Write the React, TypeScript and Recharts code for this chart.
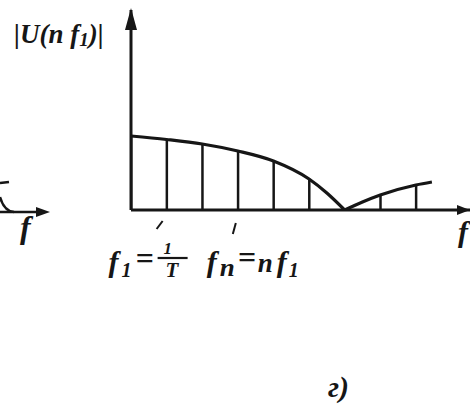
import React from 'react';
import {
  ComposedChart,
  Bar,
  Line,
  XAxis,
  YAxis,
  ReferenceDot
} from 'recharts';

// harmonic numbers n (f = n * f1) and line heights
const harmonics = [0, 1, 2, 3, 4, 5, 6, 7, 8];
const lineHeights = [74, 70.5, 66, 59, 49, 31, 0, 15, 25];

// envelope |U(f)|: main lobe and first side lobe
const mainLobeX = [0, 1, 2, 3, 4, 5, 5.5, 6];
const mainLobeY = [74, 70.5, 66, 59, 49, 31, 17, 0];
const sideLobeX = [6, 6.5, 7, 8, 8.45];
const sideLobeY = [0, 8, 15, 25, 28];

const labelTicks = [1, 3];
const xMax = 9.52;
const yMax = 200;

const INK = '#161616';
const FONT = '"Liberation Serif", "DejaVu Serif", serif';

const buildData = () => {
  const rows: Record<number, any> = {};
  const row = (x: number) => (rows[x] = rows[x] || { f: x });
  harmonics.forEach((x, i) => (row(x).spec = lineHeights[i]));
  mainLobeX.forEach((x, i) => (row(x).lobe1 = mainLobeY[i]));
  sideLobeX.forEach((x, i) => (row(x).lobe2 = sideLobeY[i]));
  return Object.values(rows).sort((a, b) => a.f - b.f);
};

const data = buildData();

const txt = {
  fontFamily: FONT,
  fontStyle: 'italic',
  fontWeight: 700,
  fill: INK
} as const;

const FreqTick = ({ x, y, payload }: any) => {
  if (payload.value === 1) {
    return (
      <g>
        <line x1={x - 4} y1={y + 11} x2={x - 10} y2={y + 19} stroke={INK} strokeWidth={2} />
        <text x={x - 58} y={y + 62} fontSize={30} {...txt}>f</text>
        <text x={x - 45} y={y + 67} fontSize={20} {...txt}>1</text>
        <text x={x - 31} y={y + 59} fontSize={32} {...txt}>=</text>
        <text x={x - 3} y={y + 44} fontSize={17} {...txt}>1</text>
        <line x1={x - 9} y1={y + 48} x2={x + 21} y2={y + 48} stroke={INK} strokeWidth={2.2} />
        <text x={x - 1} y={y + 67} fontSize={21} {...txt}>T</text>
      </g>
    );
  }
  return (
    <g>
      <line x1={x - 2} y1={y + 13} x2={x - 5} y2={y + 24} stroke={INK} strokeWidth={2} />
      <text x={x - 31} y={y + 62} fontSize={30} {...txt}>f</text>
      <text x={x - 18} y={y + 66} fontSize={26} textLength={15} lengthAdjust="spacingAndGlyphs" {...txt}>n</text>
      <text x={x} y={y + 58} fontSize={32} {...txt}>=</text>
      <text x={x + 20} y={y + 62} fontSize={27} textLength={15} lengthAdjust="spacingAndGlyphs" {...txt}>n</text>
      <text x={x + 39} y={y + 62} fontSize={30} {...txt}>f</text>
      <text x={x + 51} y={y + 67} fontSize={20} {...txt}>1</text>
    </g>
  );
};

const ArrowRight = ({ cx, cy }: any) => (
  <polygon points={`${cx},${cy} ${cx - 13},${cy - 5} ${cx - 13},${cy + 5}`} fill={INK} />
);

const ArrowUp = ({ cx, cy }: any) => (
  <polygon points={`${cx},${cy - 2} ${cx - 6},${cy + 20} ${cx + 6},${cy + 20}`} fill={INK} />
);

export default function App() {
  return (
    <div style={{ position: 'absolute', left: 0, top: 0, width: 470, height: 407, background: '#fff' }}>
      {/* cut-off piece of the neighbouring figure at the left edge */}
      <svg width={60} height={260} style={{ position: 'absolute', left: 0, top: 0 }}>
        <line x1={0} y1={183} x2={9} y2={182} stroke={INK} strokeWidth={2.5} />
        <path d="M0,197 Q4,211 14,212" fill="none" stroke={INK} strokeWidth={2.5} />
        <line x1={0} y1={212} x2={44} y2={212} stroke={INK} strokeWidth={2.5} />
        <polygon points="50,212 36,207 36,217" fill={INK} />
        <text x={20} y={238} fontSize={32} {...txt}>f</text>
      </svg>
      <ComposedChart
        width={470}
        height={407}
        data={data}
        margin={{ top: 10, right: 0, bottom: 196, left: 130 }}
        style={{ position: 'absolute', left: 0, top: 0 }}
      >
        <XAxis
          dataKey="f"
          type="number"
          domain={[0, xMax]}
          allowDataOverflow
          ticks={labelTicks}
          tick={<FreqTick />}
          tickLine={false}
          tickSize={0}
          tickMargin={0}
          height={1}
          axisLine={{ stroke: INK, strokeWidth: 3 }}
          label={{
            content: ({ viewBox }: any) => (
              <text x={viewBox.x + viewBox.width - 12} y={viewBox.y + 32} fontSize={30} {...txt}>f</text>
            )
          }}
        />
        <YAxis
          type="number"
          domain={[0, yMax]}
          allowDataOverflow
          width={1}
          tick={false}
          tickLine={false}
          axisLine={{ stroke: INK, strokeWidth: 3 }}
          label={{
            content: ({ viewBox }: any) => (
              <text x={viewBox.x - 116} y={viewBox.y + 33} fontSize={27} {...txt}>
                |U(n f<tspan fontSize={19} dy={3}>1</tspan>
                <tspan dy={-3}>)|</tspan>
              </text>
            )
          }}
        />
        <Bar dataKey="spec" barSize={2.5} fill={INK} isAnimationActive={false} />
        <Line
          dataKey="lobe1"
          type="monotone"
          stroke={INK}
          strokeWidth={3.2}
          dot={false}
          activeDot={false}
          isAnimationActive={false}
        />
        <Line
          dataKey="lobe2"
          type="monotone"
          stroke={INK}
          strokeWidth={3.2}
          dot={false}
          activeDot={false}
          isAnimationActive={false}
        />
        <ReferenceDot x={xMax} y={0} ifOverflow="visible" shape={<ArrowRight />} />
        <ReferenceDot x={0} y={yMax} ifOverflow="visible" shape={<ArrowUp />} />
      </ComposedChart>
      <div
        style={{
          position: 'absolute',
          left: 328,
          top: 370,
          fontFamily: FONT,
          fontStyle: 'italic',
          fontWeight: 700,
          fontSize: 30,
          lineHeight: '34px',
          color: INK
        }}
      >
        г)
      </div>
    </div>
  );
}
